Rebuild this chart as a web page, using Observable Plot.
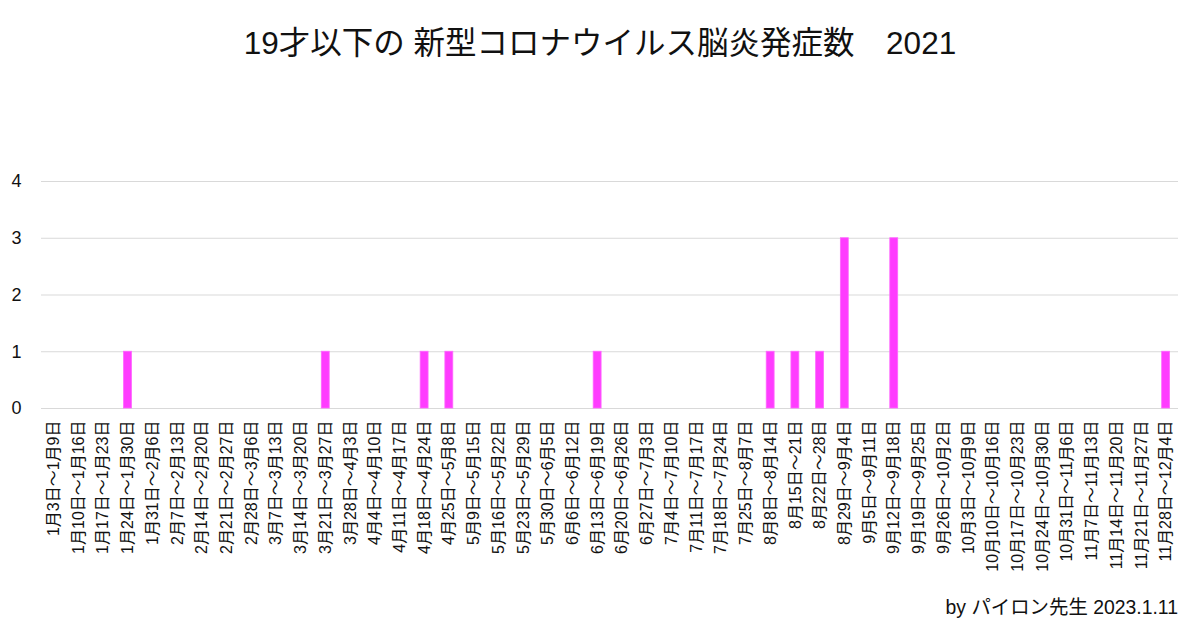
<!DOCTYPE html>
<html>
<head>
<meta charset="utf-8">
<script src="https://cdn.jsdelivr.net/npm/d3@7"></script>
<script src="https://cdn.jsdelivr.net/npm/@observablehq/plot@0.6"></script>
<style>
  html, body { margin: 0; padding: 0; background: #fff; }
  body { width: 1200px; height: 627px; position: relative; overflow: hidden;
         font-family: "Liberation Sans", "Noto Sans CJK JP", sans-serif; color: #111; }
  #title { position: absolute; top: 20px; left: 0; width: 1200px; text-align: center;
           font-size: 31.5px; line-height: 46px; white-space: pre; }
  #chart { position: absolute; top: 150px; left: 0; }
  #caption { position: absolute; top: 594px; right: 22px; font-size: 19.4px; line-height: 26px; }
</style>
</head>
<body>
<div id="title">19才以下の 新型コロナウイルス脳炎発症数　2021</div>
<div id="chart"></div>
<div id="caption">by パイロン先生 2023.1.11</div>
<script>
const weeks = [
  "1月3日〜1月9日","1月10日〜1月16日","1月17日〜1月23日","1月24日〜1月30日","1月31日〜2月6日",
  "2月7日〜2月13日","2月14日〜2月20日","2月21日〜2月27日","2月28日〜3月6日",
  "3月7日〜3月13日","3月14日〜3月20日","3月21日〜3月27日","3月28日〜4月3日",
  "4月4日〜4月10日","4月11日〜4月17日","4月18日〜4月24日","4月25日〜5月8日",
  "5月9日〜5月15日","5月16日〜5月22日","5月23日〜5月29日","5月30日〜6月5日",
  "6月6日〜6月12日","6月13日〜6月19日","6月20日〜6月26日","6月27日〜7月3日",
  "7月4日〜7月10日","7月11日〜7月17日","7月18日〜7月24日","7月25日〜8月7日",
  "8月8日〜8月14日","8月15日〜21日","8月22日〜28日","8月29日〜9月4日",
  "9月5日〜9月11日","9月12日〜9月18日","9月19日〜9月25日","9月26日〜10月2日",
  "10月3日〜10月9日","10月10日〜10月16日","10月17日〜10月23日","10月24日〜10月30日",
  "10月31日〜11月6日","11月7日〜11月13日","11月14日〜11月20日","11月21日〜11月27日",
  "11月28日〜12月4日"
];
const counts = [
  0,0,0,1,0,
  0,0,0,0,
  0,0,1,0,
  0,0,1,1,
  0,0,0,0,
  0,1,0,0,
  0,0,0,0,
  1,1,1,3,
  0,3,0,0,
  0,0,0,0,
  0,0,0,0,
  1
];
const yTicks = [0, 1, 2, 3, 4];

const data = weeks.map((w, i) => ({week: w, count: counts[i]}));
const font = '"Liberation Sans", "Noto Sans CJK JP", sans-serif';

const plot = Plot.plot({
  width: 1200,
  height: 440,
  marginTop: 31,
  marginBottom: 182,
  marginLeft: 41,
  marginRight: 22,
  style: {fontFamily: font, fontSize: "16px", color: "#111", background: "transparent"},
  x: {domain: weeks, paddingInner: 0.68, paddingOuter: 0.34, align: 0.5},
  y: {domain: [0, 4]},
  marks: [
    Plot.gridY(yTicks, {stroke: "#d9d9d9", strokeOpacity: 1, strokeWidth: 1}),
    Plot.axisY(yTicks, {tickSize: 0, tickPadding: 20, fontSize: 18, label: null, tickFormat: d => String(d)}),
    Plot.axisX({tickSize: 0, tickRotate: -90, tickPadding: 12, fontSize: 16, label: null}),
    Plot.barY(data, {x: "week", y: "count", fill: "#ff3cff", stroke: "#ff66ff", strokeWidth: 0.8})
  ]
});
document.getElementById("chart").appendChild(plot);
</script>
</body>
</html>
